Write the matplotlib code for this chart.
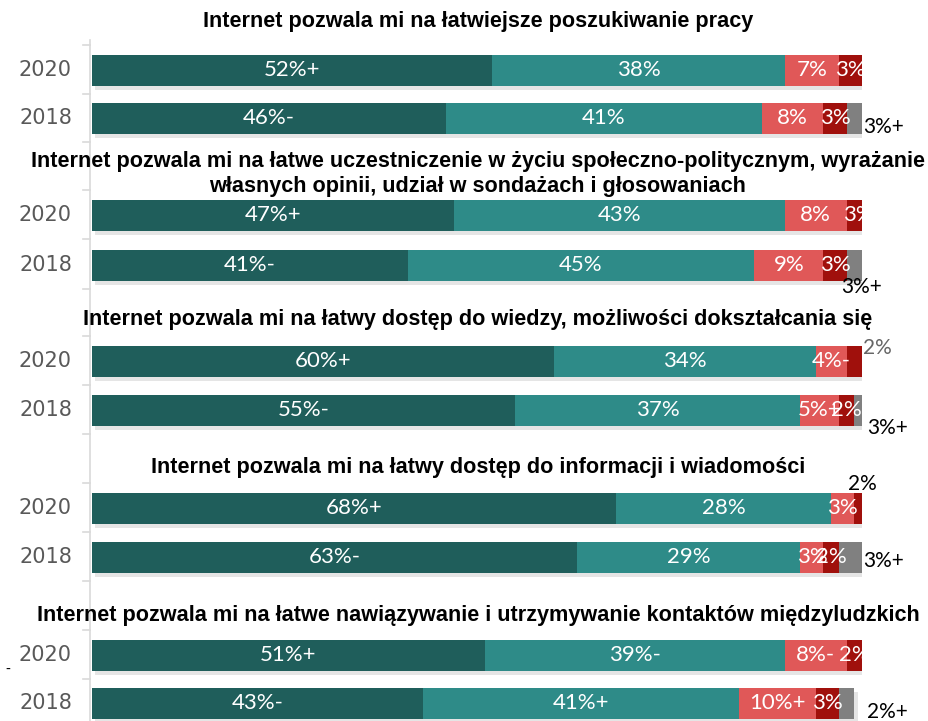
import matplotlib
matplotlib.use('Agg')
import matplotlib.pyplot as plt
import matplotlib.patheffects as pe

# data: share of answers, from darkest (fully agree) to gray (no answer)
titles = ['Internet pozwala mi na łatwiejsze poszukiwanie pracy',
          'Internet pozwala mi na łatwe uczestniczenie w życiu społeczno-politycznym, wyrażanie\nwłasnych opinii, udział w sondażach i głosowaniach',
          'Internet pozwala mi na łatwy dostęp do wiedzy, możliwości dokształcania się',
          'Internet pozwala mi na łatwy dostęp do informacji i wiadomości',
          'Internet pozwala mi na łatwe nawiązywanie i utrzymywanie kontaktów międzyludzkich']
years = ['2020', '2018']

v2020 = [[52, 38, 7, 3, 0],
         [47, 43, 8, 3, 0],
         [60, 34, 4, 2, 0],
         [68, 28, 3, 2, 0],
         [51, 39, 8, 2, 0]]
v2018 = [[46, 41, 8, 3, 3],
         [41, 45, 9, 3, 3],
         [55, 37, 5, 2, 3],
         [63, 29, 3, 2, 3],
         [43, 41, 10, 3, 2]]
lab2020 = [['52%+', '38%', '7%', '3%', ''],
           ['47%+', '43%', '8%', '3%', ''],
           ['60%+', '34%', '4%-', '', ''],
           ['68%+', '28%', '3%', '', ''],
           ['51%+', '39%-', '8%-', '2%', '']]
lab2018 = [['46%-', '41%', '8%', '3%', ''],
           ['41%-', '45%', '9%', '3%', ''],
           ['55%-', '37%', '5%+', '2%', ''],
           ['63%-', '29%', '3%', '2%', ''],
           ['43%-', '41%+', '10%+', '3%', '']]
# labels written outside the bars
out2020 = ['', '', '2%', '2%', '']
out2018 = ['3%+', '3%+', '3%+', '3%+', '2%+']

colors = ['#1F5E5B', '#2E8B88', '#E05858', '#A0100C', '#808080']

# layout (pixels)
W, H = 929, 721
row_y = [(70, 118), (215, 265), (361, 410), (508, 557), (655, 703)]
title_y = [22, 174, 320, 468, 615]
out_off2020 = [None, None, (1, 13), (-14, 24), None]
out_off2018 = [(1, -9), (-21, -22), (5, -18), (1, -4), (5, -9)]
out_col2020 = [None, None, '#666666', 'black', None]

fig = plt.figure(figsize=(W / 100, H / 100), dpi=100)
ax = fig.add_axes([92 / W, 0, 770 / W, 1])
ax.set_xlim(0, 100)
ax.set_ylim(H, 0)
ax.axis('off')

shadow = [pe.SimplePatchShadow(offset=(2.5, -3), shadow_rgbFace='#aaaaaa', alpha=0.3), pe.Normal()]
font = ['Lato', 'DejaVu Sans']

ticks = []
for g in range(5):
    for yi, (vals, labs) in enumerate([(v2020[g], lab2020[g]), (v2018[g], lab2018[g])]):
        y = row_y[g][yi]
        left = 0
        for k in range(5):
            w = vals[k]
            if w > 0:
                ax.barh(y, w, left=left, height=31, color=colors[k], path_effects=shadow, zorder=2)
                if labs[k]:
                    ax.text(left + w / 2, y, labs[k], ha='center', va='center', zorder=4,
                            family=font, fontsize=16, color='white')
            left += w
        if yi == 0 and out2020[g]:
            dx, dy = out_off2020[g]
            ax.annotate(out2020[g], xy=(100, y), xytext=(dx, dy), textcoords='offset pixels',
                        ha='left', va='center', fontsize=15, color=out_col2020[g],
                        family=font, zorder=5)
        if yi == 1 and out2018[g]:
            dx, dy = out_off2018[g]
            ax.annotate(out2018[g], xy=(100, y), xytext=(dx, dy), textcoords='offset pixels',
                        ha='left', va='center', fontsize=15, color='black',
                        family=font, zorder=5)
        fig.text(72 / W, 1 - y / H, years[yi], ha='right', va='center',
                 fontsize=15, color='#595959', family='DejaVu Sans')
    ticks += [row_y[g][0] - 25, row_y[g][0] + 24, row_y[g][1] + 24]
    fig.text(478 / W, 1 - title_y[g] / H, titles[g], ha='center', va='center',
             fontsize=15.6, fontweight='bold', family='Liberation Sans', linespacing=1.2)

# category axis line and separators
axis_x = 90 / W
fig.add_artist(plt.Line2D([axis_x, axis_x], [0, 1 - 40 / H], color='#D9D9D9', lw=1.2, zorder=0))
for t in ticks:
    fig.add_artist(plt.Line2D([83 / W, axis_x], [1 - t / H, 1 - t / H], color='#D9D9D9', lw=1.2, zorder=0))

fig.text(5 / W, 1 - 670 / H, '-', fontsize=10, color='black', va='center')

fig.savefig('out.png', dpi=100)
